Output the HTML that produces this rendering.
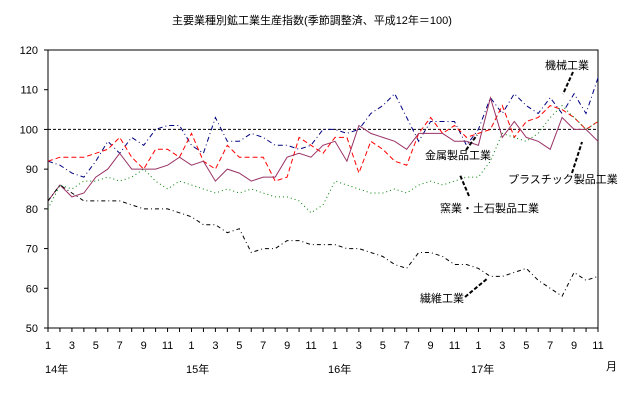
<!DOCTYPE html>
<html><head><meta charset="utf-8"><style>
body{margin:0;background:#fff;}
svg{display:block;font-family:"Liberation Sans","Noto Sans CJK JP",sans-serif;}
text{font-size:11px;fill:#000;}
</style></head><body>
<svg id="s" width="624" height="401" xmlns="http://www.w3.org/2000/svg">
<text x="312" y="24" text-anchor="middle" font-size="12">主要業種別鉱工業生産指数(季節調整済、平成12年＝100)</text>
<g id="g"></g>
<text x="545" y="69">機械工業</text>
<text x="425" y="159">金属製品工業</text>
<text x="508" y="183">プラスチック製品工業</text>
<text x="440" y="212">窯業・土石製品工業</text>
<text x="420" y="302">繊維工業</text>
<g stroke="#000" stroke-width="2" stroke-dasharray="4,2">
<line x1="573" y1="72" x2="563" y2="94"/>
<line x1="466" y1="150" x2="477" y2="135"/>
<line x1="572" y1="173" x2="582" y2="142"/>
<line x1="469" y1="196" x2="460" y2="175"/>
<line x1="465" y1="297" x2="488" y2="278"/>
</g>
<text x="606" y="370">月</text>
<text x="45" y="373">14年</text>
<text x="186" y="373">15年</text>
<text x="328" y="373">16年</text>
<text x="471" y="373">17年</text>
</svg>
<script>
var g=document.getElementById('g'),h='';
var L=48,R=598,T=50,B=328,n=47,dx=(R-L)/(n-1);
function X(i){return L+dx*i}function Y(v){return T+(120-v)*(B-T)/70}
h+='<rect x="'+L+'" y="'+T+'" width="'+(R-L)+'" height="'+(B-T)+'" fill="none" stroke="#000" stroke-width="1"/>';
for(var v=50;v<=120;v+=10){h+='<line x1="'+(L-4)+'" y1="'+Y(v)+'" x2="'+L+'" y2="'+Y(v)+'" stroke="#000"/><text x="38" y="'+(Y(v)+4)+'" text-anchor="end">'+v+'</text>';}
for(var i=0;i<n;i++){h+='<line x1="'+X(i)+'" y1="'+B+'" x2="'+X(i)+'" y2="'+(B+4)+'" stroke="#000"/>';
 var m=(i%12)+1;if(m%2==1)h+='<text x="'+X(i)+'" y="349" text-anchor="middle">'+m+'</text>';}
h+='<line x1="'+L+'" y1="'+Y(100)+'" x2="'+R+'" y2="'+Y(100)+'" stroke="#000" stroke-dasharray="3,2"/>';
var S=[
['#000080','5,3,1,3',[92,91,89,88,92,97,94,98,96,100,101,101,96,94,103,97,97,99,98,96,96,95,96,100,100,99,100,104,106,109,103,97,102,102,102,96,100,108,104,109,106,104,108,104,109,104,113]],
['#ff0000','5,3',[92,93,93,93,94,95,98,93,90,95,95,93,99,92,90,96,93,93,93,87,88,98,96,94,98,98,89,97,95,92,91,99,103,99,101,98,99,100,106,98,102,103,106,105,103,100,102]],
['#993366','',[82,86,83,84,88,90,94,90,90,90,91,93,91,92,87,90,89,87,88,88,93,94,93,96,97,92,101,99,98,97,95,99,99,99,97,97,96,108,98,102,98,97,95,103,100,100,97]],
['#008000','1,3',[80,86,85,87,87,88,87,88,90,87,85,87,86,85,84,85,84,85,84,83,83,82,79,81,87,86,85,84,84,85,84,86,87,86,87,88,88,92,99,98,97,99,103,106,103,100,102]],
['#000','4,3,1,3',[82,86,84,82,82,82,82,81,80,80,80,79,78,76,76,74,75,69,70,70,72,72,71,71,71,70,70,69,68,66,65,69,69,68,66,66,65,63,63,64,65,62,60,58,64,62,63]]];
S.forEach(function(s){var p=s[2].map(function(v,i){return X(i).toFixed(1)+','+Y(v).toFixed(1)}).join(' ');
h+='<polyline points="'+p+'" fill="none" stroke="'+s[0]+'" stroke-width="1"'+(s[1]?' stroke-dasharray="'+s[1]+'"':'')+'/>';});
g.innerHTML=h;
</script>
</body></html>
